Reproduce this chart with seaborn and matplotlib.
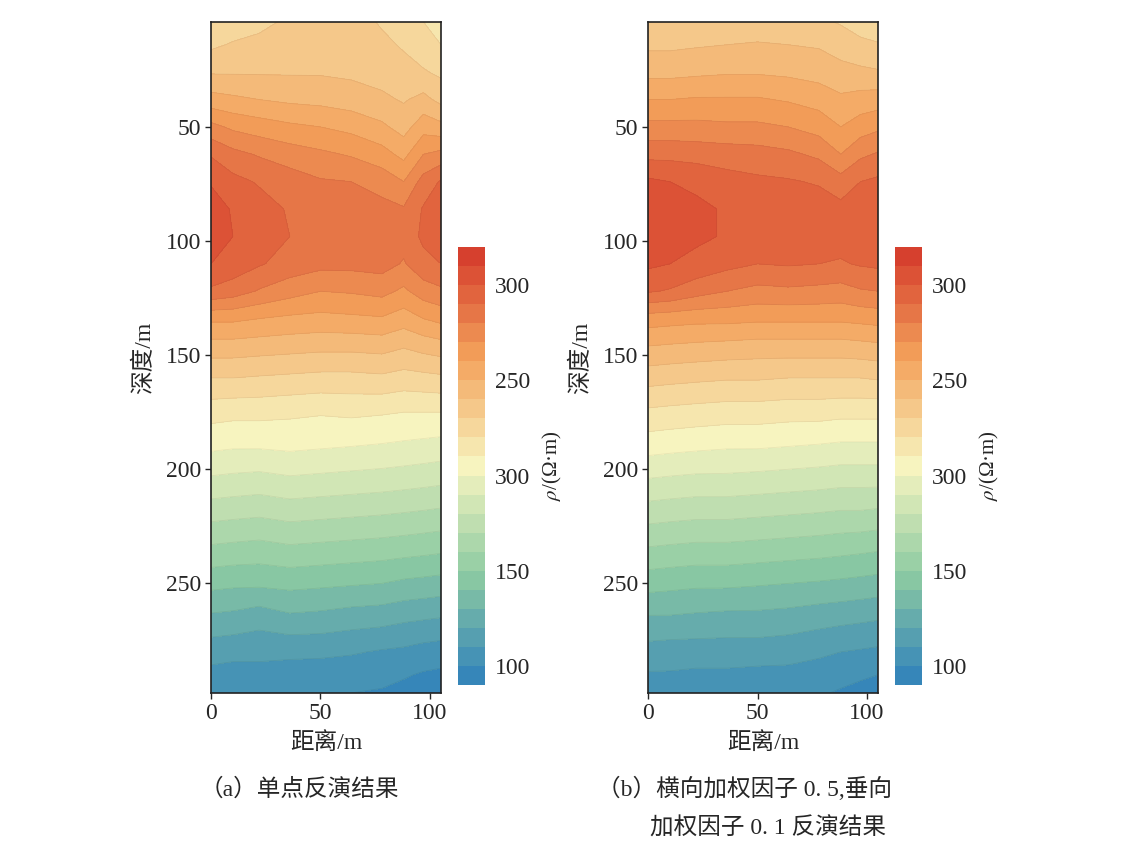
"""
Zwei Widerstands-Konturplots (Einzelpunkt- vs. gewichtete Inversion) mit Farbskalen.
"""
import matplotlib
matplotlib.use("Agg")
import matplotlib.pyplot as plt
import numpy as np
import seaborn as sns

sns.set_style("white")
plt.rcParams["font.family"] = ["Liberation Serif", "Noto Sans CJK SC", "DejaVu Sans"]
plt.rcParams["mathtext.fontset"] = "stix"

# Stützstellen
distance = [0, 10, 22, 36, 50, 64, 78, 88, 97, 105]
depth = [4, 14, 26, 38, 50, 62, 74, 86, 98, 110, 122, 134, 146,
         160, 175, 190, 205, 220, 235, 250, 265, 280, 290, 298]

# (a) Einzelpunkt-Inversion, eine Liste pro Distanz-Spalte (oben -> unten)
rho_single = [
    [221, 228, 239, 254, 273, 289, 299, 305, 305, 300, 288,
     262, 246, 230, 214, 202, 188, 173, 158, 143, 128, 114, 107, 102],
    [224, 231, 239, 252, 268, 283, 293, 299, 300, 296, 285,
     262, 246, 230, 213, 201, 187, 172, 157, 142, 127, 113, 106, 101],
    [227, 233, 239, 250, 265, 279, 289, 294, 295, 291, 279,
     260, 245, 229, 213, 201, 186, 171, 156, 142, 124, 113, 106, 102],
    [232, 235, 239, 248, 262, 275, 285, 289, 290, 286, 274,
     258, 244, 228, 212, 202, 188, 173, 158, 143, 128, 112, 106, 100],
    [234, 236, 239, 247, 260, 272, 281, 285, 287, 283, 270,
     257, 243, 227, 211, 201, 187, 172, 157, 142, 127, 112, 105, 101],
    [234, 236, 238, 245, 257, 269, 280, 285, 286, 283, 271,
     258, 243, 227, 212, 200, 186, 171, 156, 141, 125, 111, 104, 100],
    [229, 232, 236, 242, 252, 264, 276, 283, 285, 284, 273,
     259, 244, 228, 211, 199, 185, 170, 155, 140, 124, 109, 103, 99],
    [226, 229, 233, 239, 246, 257, 270, 281, 284, 279, 268,
     255, 241, 226, 210, 198, 184, 169, 154, 138, 122, 108, 101, 97],
    [220, 224, 231, 243, 256, 270, 284, 291, 292, 287, 275,
     260, 244, 227, 210, 197, 183, 168, 153, 137, 121, 106, 99, 95],
    [213, 220, 228, 237, 253, 273, 291, 296, 296, 290, 278,
     263, 246, 228, 210, 196, 182, 167, 152, 136, 120, 105, 98, 93],
]

# (b) horizontal 0.5 / vertikal 0.1 gewichtet
rho_weighted = [
    [232, 238, 247, 260, 273, 287, 302, 306, 306, 302, 291,
     265, 250, 234, 218, 204, 189, 174, 159, 144, 129, 116, 109, 105],
    [232, 238, 247, 260, 273, 287, 300, 305, 305, 300, 289,
     264, 249, 233, 217, 203, 188, 173, 158, 143, 129, 115, 109, 104],
    [233, 239, 248, 261, 273, 286, 298, 302, 302, 297, 284,
     263, 248, 232, 216, 202, 187, 172, 157, 142, 128, 115, 108, 104],
    [233, 240, 249, 261, 272, 285, 294, 299, 299, 293, 280,
     263, 247, 231, 215, 201, 187, 172, 157, 142, 127, 115, 108, 103],
    [233, 241, 249, 261, 272, 284, 292, 296, 297, 290, 277,
     262, 246, 231, 215, 201, 186, 171, 156, 141, 127, 115, 107, 103],
    [233, 240, 248, 259, 270, 282, 291, 296, 297, 291, 278,
     262, 246, 230, 214, 200, 185, 170, 155, 140, 126, 114, 107, 102],
    [232, 239, 246, 256, 266, 278, 289, 295, 296, 290, 277,
     262, 246, 230, 214, 199, 184, 169, 154, 139, 124, 112, 105, 101],
    [229, 236, 243, 252, 260, 270, 284, 293, 294, 289, 276,
     262, 246, 230, 213, 198, 183, 168, 153, 138, 123, 110, 103, 99],
    [224, 233, 242, 254, 265, 278, 290, 295, 296, 291, 279,
     263, 247, 230, 213, 198, 183, 168, 152, 137, 122, 109, 102, 96],
    [222, 231, 241, 255, 268, 281, 292, 297, 298, 292, 280,
     264, 248, 231, 213, 198, 183, 167, 151, 136, 121, 108, 100, 93],
]

cbar_ticks = [100, 150, 200, 250, 300]
cbar_ticklabels = ["100", "150", "300", "250", "300"]
captions = [
    [("（a）单点反演结果", 0.174, 0.064)],
    [("（b）横向加权因子 0. 5,垂向", 0.520, 0.064),
     ("加权因子 0. 1 反演结果", 0.566, 0.017)],
]

LEVELS = np.arange(90, 321, 10)
CMAP = sns.blend_palette(["#2f80bb", "#8ccaa2", "#f7f5c0", "#f3a05a", "#d4382a"], as_cmap=True)
AX_POS = [[0.1838, 0.178, 0.2003, 0.796], [0.5645, 0.178, 0.2003, 0.796]]
CAX_POS = [[0.399, 0.1874, 0.0235, 0.5196], [0.7796, 0.1874, 0.0235, 0.5196]]

fig = plt.figure(figsize=(11.48, 8.43), dpi=100)
X, D = np.meshgrid(distance, depth)

for i, rho in enumerate([rho_single, rho_weighted]):
    Z = np.array(rho).T
    ax = fig.add_axes(AX_POS[i])
    cs = ax.contourf(X, D, Z, levels=LEVELS, cmap=CMAP)
    ax.contour(X, D, Z, levels=LEVELS, colors="k", alpha=0.06, linewidths=0.6)
    ax.set_xlim(0, 105)
    ax.set_ylim(298, 4)
    ax.set_xticks([0, 50, 100])
    ax.set_yticks([50, 100, 150, 200, 250])
    ax.tick_params(labelsize=17, direction="out", length=4, width=1.0,
                   bottom=True, left=True, pad=3)
    for sp in ax.spines.values():
        sp.set_visible(True)
        sp.set_color("#222222")
        sp.set_linewidth(1.2)
    ax.set_xlabel("距离/m", fontsize=17, labelpad=6)
    ax.set_ylabel("深度/m", fontsize=17, labelpad=8)

    cax = fig.add_axes(CAX_POS[i])
    cb = fig.colorbar(cs, cax=cax, ticks=cbar_ticks)
    cb.ax.set_yticklabels(cbar_ticklabels)
    cb.ax.tick_params(labelsize=17, length=0, pad=7)
    cb.outline.set_visible(False)
    cb.set_label(r"$\rho$/(Ω·m)", fontsize=15, labelpad=8)
    cb.ax.set_ylim(90, 320)

    for txt, x, y in captions[i]:
        fig.text(x, y, txt, fontsize=17, ha="left", va="center")

fig.savefig("out.png", dpi=100)
plt.close(fig)
